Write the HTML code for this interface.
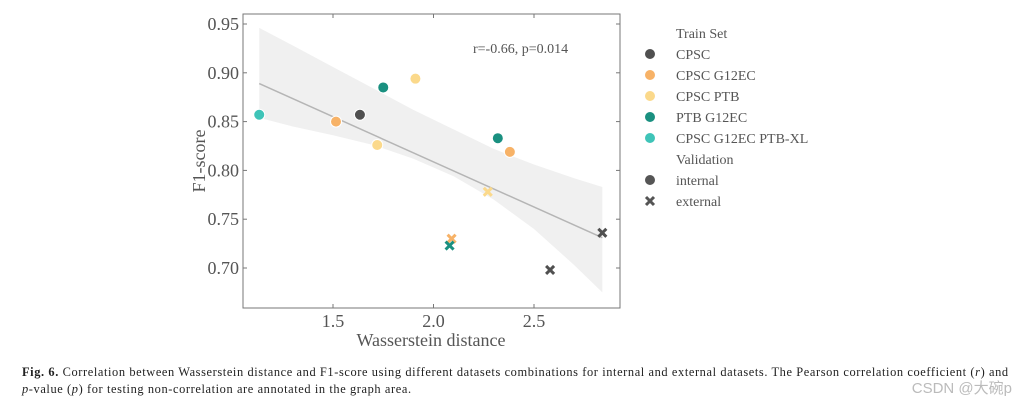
<!DOCTYPE html>
<html><head><meta charset="utf-8"><style>
body{margin:0;background:#fff;width:1020px;height:405px;overflow:hidden;font-family:"Liberation Serif",serif;}
svg{position:absolute;left:0;top:0}
.cap{position:absolute;left:22px;top:364px;font-size:12.4px;letter-spacing:0.6px;color:#222;line-height:17px;width:1000px;white-space:nowrap}
.wm{position:absolute;right:8px;top:377px;font-family:"Liberation Sans","Noto Sans CJK SC",sans-serif;font-size:15px;color:#bbb}
</style></head><body>
<svg id="chart" width="1020" height="405"></svg>
<div class="cap"><b>Fig. 6.</b> Correlation between Wasserstein distance and F1-score using different datasets combinations for internal and external datasets. The Pearson correlation coefficient (<i>r</i>) and<br><i>p</i>-value (<i>p</i>) for testing non-correlation are annotated in the graph area.</div>
<div class="wm">CSDN @大碗p</div>
<script>
const xs=[1.133,1.515,1.634,1.75,1.91,1.72,2.32,2.38,2.27,2.09,2.08,2.58,2.84];
const ys=[0.857,0.850,0.857,0.885,0.894,0.826,0.833,0.819,0.778,0.730,0.723,0.698,0.736];
const sets=[4,1,0,3,2,2,3,1,2,1,3,0,0];
const valid=[0,0,0,0,0,0,0,0,1,1,1,1,1];
const setNames=["CPSC","CPSC G12EC","CPSC PTB","PTB G12EC","CPSC G12EC PTB-XL"];
const xTicks=[1.5,2.0,2.5];
const yTicks=[0.70,0.75,0.80,0.85,0.90,0.95];
const fitX=[1.133,2.84], fitY=[0.889,0.731];
const bandX=[1.133,1.3,1.5,1.7,1.9,2.1,2.3,2.5,2.7,2.84];
const bandHi=[0.946,0.928,0.906,0.884,0.862,0.842,0.822,0.806,0.792,0.783];
const bandLo=[0.854,0.845,0.836,0.826,0.812,0.794,0.770,0.740,0.703,0.675];
const colors=["#505050","#f7b267","#fbd98b","#1a9080","#3fc4b8"];
const X=v=>333+(v-1.5)*201, Y=v=>24+(0.95-v)*976;
const NS="http://www.w3.org/2000/svg", svg=document.getElementById('chart');
function mk(t,a,p){const e=document.createElementNS(NS,t);for(const k in a)e.setAttribute(k,a[k]);(p||svg).appendChild(e);return e;}
let d="M"+bandX.map((x,i)=>X(x)+","+Y(bandHi[i])).join("L")+"L"+bandX.slice().reverse().map((x,i)=>X(x)+","+Y(bandLo[bandLo.length-1-i])).join("L")+"Z";
let band=mk('path',{d,fill:'#f0f0f0'});


let fit=mk('line',{x1:X(fitX[0]),y1:Y(fitY[0]),x2:X(fitX[1]),y2:Y(fitY[1]),stroke:'#b5b5b5','stroke-width':1.5});


let fr=mk('rect',{x:243,y:14,width:377,height:294,fill:'none',stroke:'#777','stroke-width':1});


for(const t of yTicks){const y=Y(t);
 mk('line',{x1:243,y1:y,x2:247,y2:y,stroke:'#777'});mk('line',{x1:616,y1:y,x2:620,y2:y,stroke:'#777'});
 let tx=mk('text',{x:239,y:y+6,'text-anchor':'end','font-size':18,fill:'#555'});tx.textContent=t.toFixed(2);
 
 }
for(const t of xTicks){const x=X(t);
 mk('line',{x1:x,y1:304,x2:x,y2:308,stroke:'#777'});mk('line',{x1:x,y1:14,x2:x,y2:18,stroke:'#777'});
 let tx=mk('text',{x:x,y:327,'text-anchor':'middle','font-size':18,fill:'#555'});tx.textContent=t.toFixed(1);
 
 }
let xl=mk('text',{x:431,y:346,'text-anchor':'middle','font-size':18,fill:'#555'});xl.textContent="Wasserstein distance";


let yl=mk('text',{x:205,y:161,'text-anchor':'middle','font-size':18,fill:'#555',transform:'rotate(-90 205 161)'});yl.textContent="F1-score";


let an=mk('text',{x:473,y:53,'font-size':14,fill:'#555'});an.textContent="r=-0.66, p=0.014";


function marker(cx,cy,c,v){
 if(!v){return mk('circle',{cx,cy,r:5.5,fill:c,stroke:'#fff','stroke-width':1});}
 const g=mk('g',{});const s=4;
 mk('path',{d:`M${cx-s},${cy-s}L${cx+s},${cy+s}M${cx-s},${cy+s}L${cx+s},${cy-s}`,stroke:c,'stroke-width':3},g);return g;}
xs.forEach((x,i)=>{const m=marker(X(x),Y(ys[i]),colors[sets[i]],valid[i]);
 
 });
let ly=33;
let lt=mk('text',{x:676,y:ly+5,'font-size':14,fill:'#555'});lt.textContent="Train Set";


setNames.forEach((n,i)=>{const y=ly+21*(i+1);marker(650,y,colors[i],0);
 let t=mk('text',{x:676,y:y+5,'font-size':14,fill:'#555'});t.textContent=n;
 
 });
let vt=mk('text',{x:676,y:ly+21*6+5,'font-size':14,fill:'#555'});vt.textContent="Validation";


["internal","external"].forEach((n,i)=>{const y=ly+21*(7+i);marker(650,y,'#555',i);
 let t=mk('text',{x:676,y:y+5,'font-size':14,fill:'#555'});t.textContent=n;
 
 });
</script>
</body></html>
